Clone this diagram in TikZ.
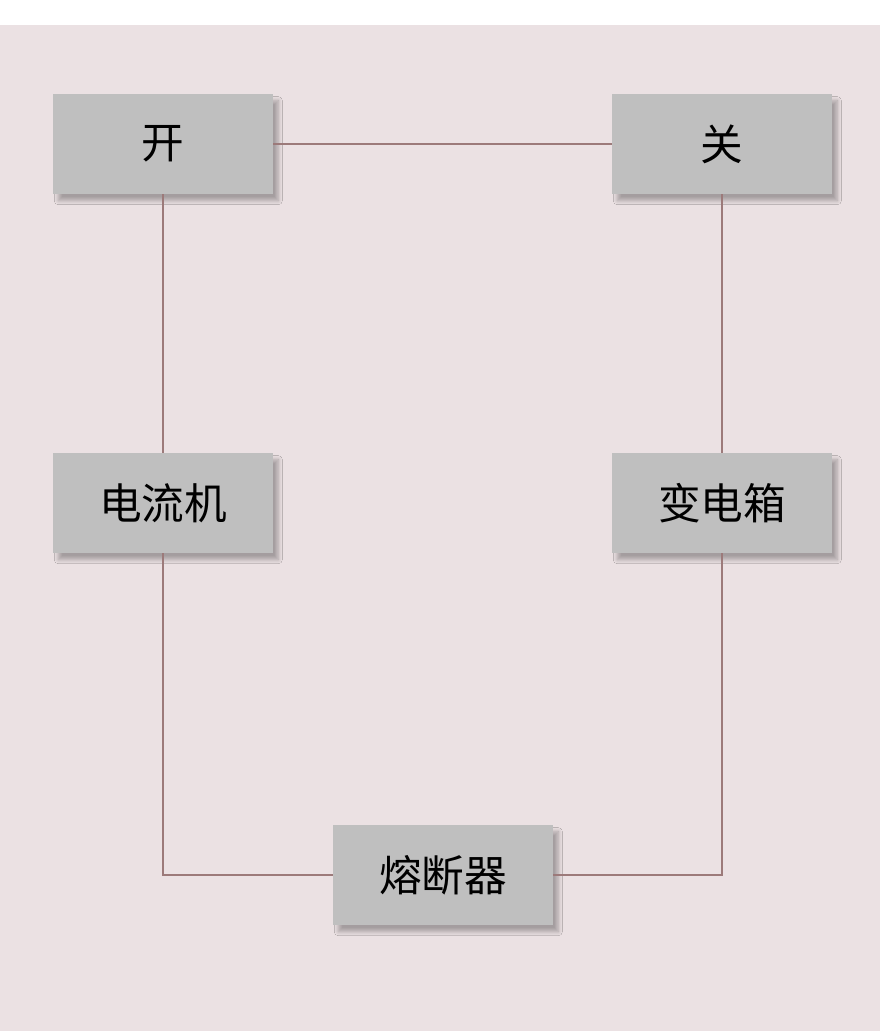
\documentclass[tikz,border=0pt]{standalone}
\usepackage{fontspec}
\newfontfamily\cjk{Noto Sans CJK SC}
\usetikzlibrary{shadows.blur}
\definecolor{bg}{HTML}{EBE1E3}
\definecolor{box}{HTML}{BFBFBF}
\definecolor{ln}{HTML}{9C7A7A}
\tikzset{
 blk/.style={fill=box,draw=none,minimum width=220*0.75pt,minimum height=100*0.75pt,inner sep=0pt,
   font=\cjk\fontsize{32}{38}\selectfont,blur shadow={shadow xshift=4pt,shadow yshift=-5pt,shadow blur radius=3pt,shadow blur steps=10,shadow opacity=30}},
 wire/.style={draw=ln,line width=1.2pt}
}
\begin{document}
\begin{tikzpicture}[x=0.75pt,y=-0.75pt]
\useasboundingbox (0,0) rectangle (880,1031);
\fill[white] (0,0) rectangle (880,1031);
\fill[bg] (0,25) rectangle (880,1031);
\node[blk] (k) at (163,144) {开};
\node[blk] (g) at (722,144) {关};
\node[blk] (d) at (163,503) {电流机};
\node[blk] (b) at (722,503) {变电箱};
\node[blk] (r) at (443,875) {熔断器};
\draw[wire] (k.east) -- (g.west);
\draw[wire] (k.south) -- (d.north);
\draw[wire] (g.south) -- (b.north);
\draw[wire] (d.south) |- (r.west);
\draw[wire] (b.south) |- (r.east);
\end{tikzpicture}
\end{document}
